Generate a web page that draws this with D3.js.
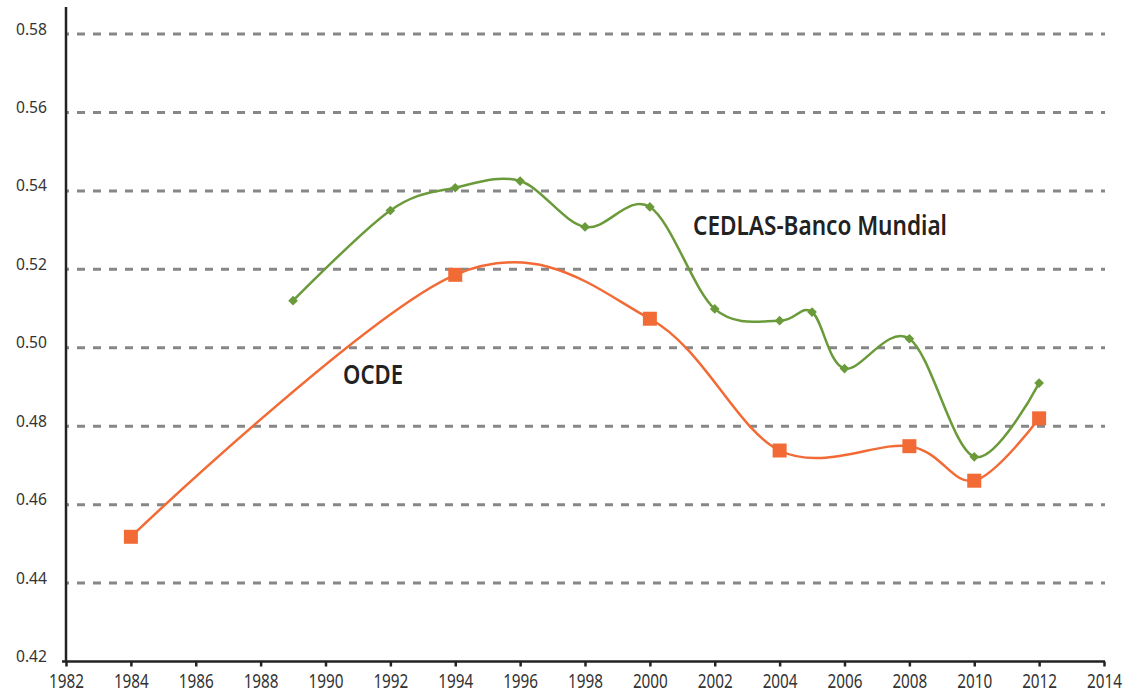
<!DOCTYPE html>
<html>
<head>
<meta charset="utf-8">
<script src="https://cdn.jsdelivr.net/npm/d3@7"></script>
<style>
  html, body { margin: 0; padding: 0; background: #ffffff; }
  svg { display: block; }
  text { font-family: "Noto Sans", "Open Sans", sans-serif; }
</style>
</head>
<body>
<svg id="chart" width="1131" height="695"></svg>
<script>
// ---- data ----
const xTicks = [1982, 1984, 1986, 1988, 1990, 1992, 1994, 1996, 1998, 2000, 2002, 2004, 2006, 2008, 2010, 2012, 2014];
const yTicks = [0.42, 0.44, 0.46, 0.48, 0.50, 0.52, 0.54, 0.56, 0.58];

const cedlasYears  = [1989, 1992, 1994, 1996, 1998, 2000, 2002, 2004, 2005, 2006, 2008, 2010, 2012];
const cedlasValues = [0.5120, 0.5350, 0.5408, 0.5425, 0.5308, 0.5359, 0.5099, 0.5069, 0.5091, 0.4947, 0.5023, 0.4722, 0.4910];

const ocdeYears  = [1984, 1994, 2000, 2004, 2008, 2010, 2012];
const ocdeValues = [0.4518, 0.5186, 0.5074, 0.4738, 0.4749, 0.4661, 0.4820];

const seriesLabels = ["CEDLAS-Banco Mundial", "OCDE"];

// ---- layout ----
const svg = d3.select("#chart");
const x = d3.scaleLinear().domain([1982, 2014]).range([66, 1104]);
const y = d3.scaleLinear().domain([0.42, 0.58]).range([661.5, 34]);

const green = "#6a9a3a";
const orange = "#f26a35";

// gridlines
svg.append("g").selectAll("line")
  .data(yTicks.filter(d => d > 0.42))
  .join("line")
  .attr("x1", x(1982)).attr("x2", x(2014) + 1)
  .attr("y1", d => y(d)).attr("y2", d => y(d))
  .attr("stroke", "#878787")
  .attr("stroke-width", 3)
  .attr("stroke-dasharray", "8,8")
  .attr("stroke-dashoffset", 5);

// x axis
const xAxis = svg.append("g")
  .attr("transform", `translate(0,${y(0.42)})`)
  .call(d3.axisBottom(x).tickValues(xTicks).tickFormat(d3.format("d")).tickSize(5).tickSizeOuter(0));
xAxis.select(".domain").remove();
xAxis.append("line")
  .attr("x1", 62).attr("x2", x(2014) + 1)
  .attr("y1", 0).attr("y2", 0)
  .attr("stroke", "#222").attr("stroke-width", 2.5);
xAxis.selectAll(".tick line").attr("stroke", "#222").attr("stroke-width", 2.5);
xAxis.selectAll(".tick text")
  .attr("y", 26.5).attr("dy", 0)
  .attr("fill", "#333")
  .style("font-size", "20px")
  .attr("textLength", 35)
  .attr("lengthAdjust", "spacingAndGlyphs");

// y axis
const yAxis = svg.append("g")
  .attr("transform", `translate(${x(1982)},0)`)
  .call(d3.axisLeft(y).tickValues(yTicks).tickFormat(d3.format(".2f")).tickSize(0).tickPadding(19));
yAxis.select(".domain").remove();
yAxis.append("line")
  .attr("x1", 0).attr("x2", 0)
  .attr("y1", 7).attr("y2", y(0.42))
  .attr("stroke", "#222").attr("stroke-width", 2.5);
yAxis.selectAll(".tick text")
  .attr("dy", 0)
  .attr("fill", "#333")
  .style("font-size", "16px")
  .attr("textLength", 31)
  .attr("lengthAdjust", "spacingAndGlyphs");

// lines
const line = d3.line()
  .x(d => x(d[0]))
  .y(d => y(d[1]))
  .curve(d3.curveCatmullRom.alpha(0));

const ocde = ocdeYears.map((yr, i) => [yr, ocdeValues[i]]);
const cedlas = cedlasYears.map((yr, i) => [yr, cedlasValues[i]]);

svg.append("path")
  .datum(ocde)
  .attr("d", line)
  .attr("fill", "none")
  .attr("stroke", orange)
  .attr("stroke-width", 2.5);

svg.append("g").selectAll("rect")
  .data(ocde)
  .join("rect")
  .attr("x", d => x(d[0]) - 7)
  .attr("y", d => y(d[1]) - 7)
  .attr("width", 14).attr("height", 14)
  .attr("fill", orange);

svg.append("path")
  .datum(cedlas)
  .attr("d", line)
  .attr("fill", "none")
  .attr("stroke", green)
  .attr("stroke-width", 2.5);

const diamond = d3.symbol().type(d3.symbolDiamond2).size(60);
svg.append("g").selectAll("path")
  .data(cedlas)
  .join("path")
  .attr("transform", d => `translate(${x(d[0])},${y(d[1])})`)
  .attr("d", diamond)
  .attr("fill", green);

// series labels
svg.append("text")
  .attr("x", 693).attr("y", 235)
  .attr("fill", "#222")
  .style("font-size", "26.5px")
  .style("font-weight", 600)
  .attr("textLength", 254)
  .attr("lengthAdjust", "spacingAndGlyphs")
  .text(seriesLabels[0]);

svg.append("text")
  .attr("x", 343).attr("y", 384)
  .attr("fill", "#222")
  .style("font-size", "26.5px")
  .style("font-weight", 600)
  .attr("textLength", 60)
  .attr("lengthAdjust", "spacingAndGlyphs")
  .text(seriesLabels[1]);
</script>
</body>
</html>
